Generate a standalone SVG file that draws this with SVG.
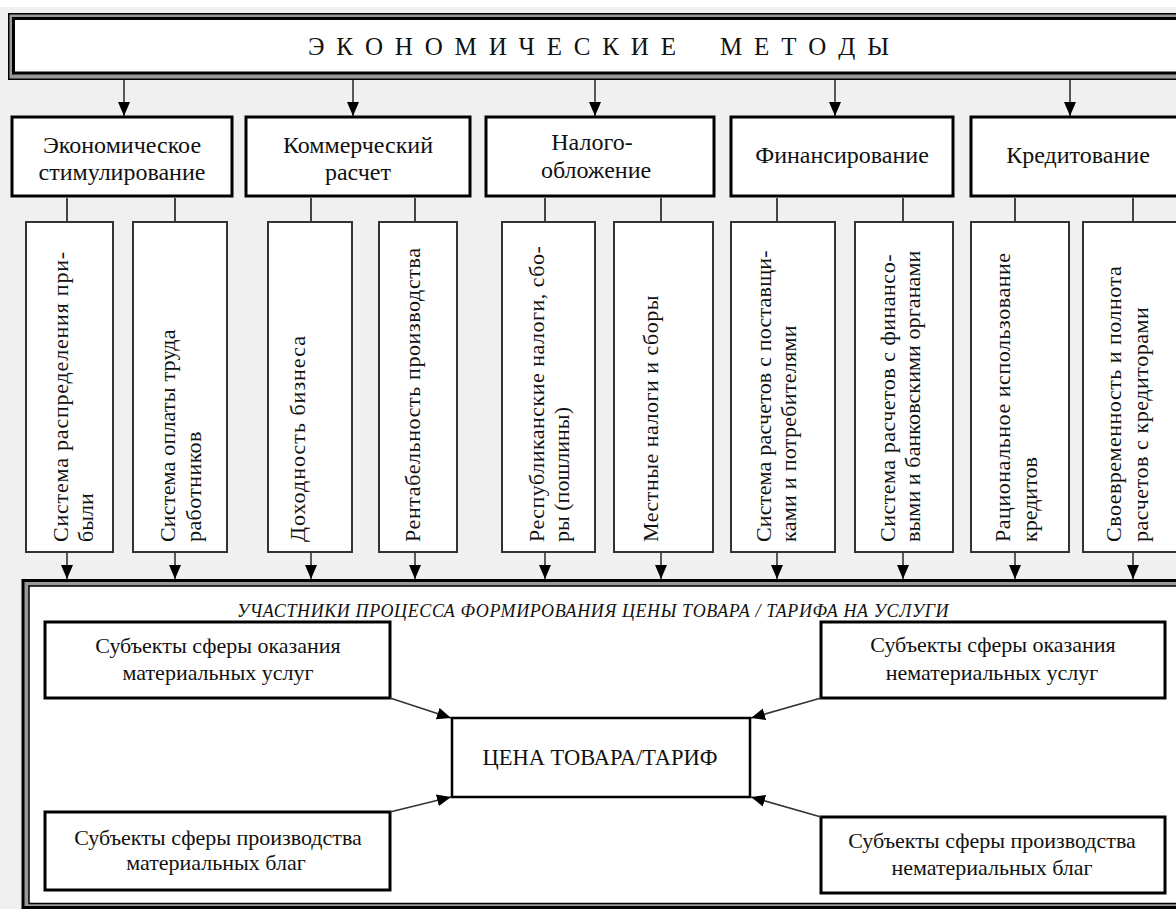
<svg xmlns="http://www.w3.org/2000/svg" width="1176" height="909" viewBox="0 0 1176 909">
<style>
.box2{fill:#fff;stroke:#000;stroke-width:3}
.box3{fill:#fff;stroke:#333;stroke-width:2}
.boxb{fill:#fff;stroke:#000;stroke-width:3}
.conn{stroke:#333;stroke-width:1.6;fill:none}
.stub{stroke:#444;stroke-width:2;fill:none}
</style>
<defs>
<marker id="ah" viewBox="0 0 14 12" refX="14" refY="6" markerWidth="14" markerHeight="12" markerUnits="userSpaceOnUse" orient="auto">
<path d="M0,0 L14,6 L0,12 z" fill="#000"/>
</marker>
</defs>
<rect x="0" y="0" width="1176" height="909" fill="#f0f0f0"/>
<rect x="0" y="0" width="1176" height="7" fill="#fff"/>

<g id="title">
<rect x="8.75" y="13.75" width="1200" height="65.5" fill="#999" stroke="#000" stroke-width="1.5"/>
<rect x="13.5" y="18.5" width="1200" height="54.5" fill="#fff" stroke="#000" stroke-width="3"/>
<text x="308" y="55" font-family="'Liberation Serif', serif" font-size="25" fill="#111" letter-spacing="2.8">Э К О Н О М И Ч Е С К И Е</text>
<text x="720" y="55" font-family="'Liberation Serif', serif" font-size="25" fill="#111" letter-spacing="2.8">М Е Т О Д Ы</text>
</g>

<g id="connectors">
<line class="conn" x1="124" y1="80" x2="124" y2="116" marker-end="url(#ah)"/>
<line class="conn" x1="353" y1="80" x2="353" y2="116" marker-end="url(#ah)"/>
<line class="conn" x1="595" y1="80" x2="595" y2="116" marker-end="url(#ah)"/>
<line class="conn" x1="835" y1="80" x2="835" y2="116" marker-end="url(#ah)"/>
<line class="conn" x1="1070" y1="80" x2="1070" y2="116" marker-end="url(#ah)"/>

<line class="stub" x1="67" y1="198" x2="67" y2="222"/>
<line class="stub" x1="175" y1="198" x2="175" y2="222"/>
<line class="stub" x1="311" y1="198" x2="311" y2="222"/>
<line class="stub" x1="415" y1="198" x2="415" y2="222"/>
<line class="stub" x1="545" y1="198" x2="545" y2="222"/>
<line class="stub" x1="661" y1="198" x2="661" y2="222"/>
<line class="stub" x1="777" y1="198" x2="777" y2="222"/>
<line class="stub" x1="903" y1="198" x2="903" y2="222"/>
<line class="stub" x1="1015" y1="198" x2="1015" y2="222"/>
<line class="stub" x1="1133" y1="198" x2="1133" y2="222"/>

<line class="conn" x1="67" y1="553" x2="67" y2="579" marker-end="url(#ah)"/>
<line class="conn" x1="175" y1="553" x2="175" y2="579" marker-end="url(#ah)"/>
<line class="conn" x1="311" y1="553" x2="311" y2="579" marker-end="url(#ah)"/>
<line class="conn" x1="415" y1="553" x2="415" y2="579" marker-end="url(#ah)"/>
<line class="conn" x1="545" y1="553" x2="545" y2="579" marker-end="url(#ah)"/>
<line class="conn" x1="661" y1="553" x2="661" y2="579" marker-end="url(#ah)"/>
<line class="conn" x1="777" y1="553" x2="777" y2="579" marker-end="url(#ah)"/>
<line class="conn" x1="903" y1="553" x2="903" y2="579" marker-end="url(#ah)"/>
<line class="conn" x1="1015" y1="553" x2="1015" y2="579" marker-end="url(#ah)"/>
<line class="conn" x1="1133" y1="553" x2="1133" y2="579" marker-end="url(#ah)"/>
</g>

<g id="n-econ-stim">
<rect class="box2" x="12" y="117" width="220" height="79"/>
<text x="122" y="153" font-family="'Liberation Serif', serif" font-size="24" fill="#111" text-anchor="middle">Экономическое</text>
<text x="122" y="180" font-family="'Liberation Serif', serif" font-size="24" fill="#111" text-anchor="middle">стимулирование</text>
</g>
<g id="n-komm">
<rect class="box2" x="246" y="117" width="224" height="79"/>
<text x="358" y="153" font-family="'Liberation Serif', serif" font-size="24" fill="#111" text-anchor="middle">Коммерческий</text>
<text x="358" y="180" font-family="'Liberation Serif', serif" font-size="24" fill="#111" text-anchor="middle">расчет</text>
</g>
<g id="n-nalog">
<rect class="box2" x="486" y="117" width="228" height="79"/>
<text x="592" y="150" font-family="'Liberation Serif', serif" font-size="24" fill="#111" text-anchor="middle">Налого-</text>
<text x="596" y="178" font-family="'Liberation Serif', serif" font-size="24" fill="#111" text-anchor="middle">обложение</text>
</g>
<g id="n-fin">
<rect class="box2" x="731" y="117" width="222" height="79"/>
<text x="842" y="163" font-family="'Liberation Serif', serif" font-size="24" fill="#111" text-anchor="middle">Финансирование</text>
</g>
<g id="n-kred">
<rect class="box2" x="971" y="117" width="230" height="79"/>
<text x="1078" y="163" font-family="'Liberation Serif', serif" font-size="24" fill="#111" text-anchor="middle">Кредитование</text>
</g>

<g id="v1">
<rect class="box3" x="26" y="222" width="87" height="330"/>
<text transform="translate(68,542) rotate(-90)" font-family="'Liberation Serif', serif" font-size="22" fill="#111" letter-spacing="0.8">Система распределения при-</text>
<text transform="translate(93,542) rotate(-90)" font-family="'Liberation Serif', serif" font-size="22" fill="#111">были</text>
</g>
<g id="v2">
<rect class="box3" x="133" y="222" width="94" height="330"/>
<text transform="translate(175,542) rotate(-90)" font-family="'Liberation Serif', serif" font-size="22" fill="#111" letter-spacing="0.2">Система оплаты труда</text>
<text transform="translate(201,542) rotate(-90)" font-family="'Liberation Serif', serif" font-size="22" fill="#111" letter-spacing="0.4">работников</text>
</g>
<g id="v3">
<rect class="box3" x="268" y="222" width="84" height="330"/>
<text transform="translate(305,542) rotate(-90)" font-family="'Liberation Serif', serif" font-size="22" fill="#111" letter-spacing="1">Доходность бизнеса</text>
</g>
<g id="v4">
<rect class="box3" x="379" y="222" width="78" height="330"/>
<text transform="translate(420,542) rotate(-90)" font-family="'Liberation Serif', serif" font-size="22" fill="#111" letter-spacing="0.6">Рентабельность производства</text>
</g>
<g id="v5">
<rect class="box3" x="502" y="222" width="93" height="330"/>
<text transform="translate(544,542) rotate(-90)" font-family="'Liberation Serif', serif" font-size="22" fill="#111" letter-spacing="0.5">Республиканские налоги, сбо-</text>
<text transform="translate(569,542) rotate(-90)" font-family="'Liberation Serif', serif" font-size="22" fill="#111">ры (пошлины)</text>
</g>
<g id="v6">
<rect class="box3" x="614" y="222" width="99" height="330"/>
<text transform="translate(658,542) rotate(-90)" font-family="'Liberation Serif', serif" font-size="22" fill="#111" letter-spacing="0.5">Местные налоги и сборы</text>
</g>
<g id="v7">
<rect class="box3" x="731" y="222" width="104" height="330"/>
<text transform="translate(771,542) rotate(-90)" font-family="'Liberation Serif', serif" font-size="22" fill="#111" letter-spacing="0.2">Система расчетов с поставщи-</text>
<text transform="translate(796,542) rotate(-90)" font-family="'Liberation Serif', serif" font-size="22" fill="#111" letter-spacing="0.3">ками и потребителями</text>
</g>
<g id="v8">
<rect class="box3" x="855" y="222" width="98" height="330"/>
<text transform="translate(895,542) rotate(-90)" font-family="'Liberation Serif', serif" font-size="22" fill="#111" letter-spacing="0.5">Система расчетов с финансо-</text>
<text transform="translate(920,542) rotate(-90)" font-family="'Liberation Serif', serif" font-size="22" fill="#111" letter-spacing="0.1">выми и банковскими органами</text>
</g>
<g id="v9">
<rect class="box3" x="971" y="222" width="98" height="330"/>
<text transform="translate(1010,542) rotate(-90)" font-family="'Liberation Serif', serif" font-size="22" fill="#111" letter-spacing="0.55">Рациональное использование</text>
<text transform="translate(1037,542) rotate(-90)" font-family="'Liberation Serif', serif" font-size="22" fill="#111">кредитов</text>
</g>
<g id="v10">
<rect class="box3" x="1083" y="222" width="110" height="330"/>
<text transform="translate(1121,542) rotate(-90)" font-family="'Liberation Serif', serif" font-size="22" fill="#111" letter-spacing="0.5">Своевременность и полнота</text>
<text transform="translate(1148,542) rotate(-90)" font-family="'Liberation Serif', serif" font-size="22" fill="#111" letter-spacing="0.55">расчетов с кредиторами</text>
</g>

<g id="participants">
<rect x="23" y="580.5" width="1200" height="327" fill="#999" stroke="#000" stroke-width="3"/>
<rect x="29" y="586" width="1200" height="317.5" fill="#fff" stroke="#000" stroke-width="1.5"/>
<text x="237" y="617" font-family="'Liberation Serif', serif" font-size="18" fill="#111" font-style="italic" letter-spacing="0.6">УЧАСТНИКИ ПРОЦЕССА ФОРМИРОВАНИЯ ЦЕНЫ ТОВАРА / ТАРИФА НА УСЛУГИ</text>
</g>

<g id="p-mat-usl">
<rect class="boxb" x="45" y="622" width="345" height="76"/>
<text x="218" y="653" font-family="'Liberation Serif', serif" font-size="22" fill="#111" text-anchor="middle">Субъекты сферы оказания</text>
<text x="218" y="680" font-family="'Liberation Serif', serif" font-size="22" fill="#111" text-anchor="middle">материальных услуг</text>
</g>
<g id="p-nemat-usl">
<rect class="boxb" x="821" y="622" width="344" height="76"/>
<text x="993" y="652" font-family="'Liberation Serif', serif" font-size="22" fill="#111" text-anchor="middle">Субъекты сферы оказания</text>
<text x="992" y="680" font-family="'Liberation Serif', serif" font-size="22" fill="#111" text-anchor="middle">нематериальных услуг</text>
</g>
<g id="p-mat-blag">
<rect class="boxb" x="45" y="812" width="345" height="78"/>
<text x="218" y="845" font-family="'Liberation Serif', serif" font-size="22" fill="#111" text-anchor="middle">Субъекты сферы производства</text>
<text x="216" y="870" font-family="'Liberation Serif', serif" font-size="22" fill="#111" text-anchor="middle">материальных благ</text>
</g>
<g id="p-nemat-blag">
<rect class="boxb" x="821" y="817" width="344" height="76"/>
<text x="992" y="848" font-family="'Liberation Serif', serif" font-size="22" fill="#111" text-anchor="middle">Субъекты сферы производства</text>
<text x="992" y="875" font-family="'Liberation Serif', serif" font-size="22" fill="#111" text-anchor="middle">нематериальных благ</text>
</g>
<g id="price">
<rect x="452" y="718" width="298" height="79" fill="#fff" stroke="#000" stroke-width="2.5"/>
<text x="600" y="765" font-family="'Liberation Serif', serif" font-size="22.5" fill="#111" text-anchor="middle">ЦЕНА ТОВАРА/ТАРИФ</text>
</g>

<g id="connectors-price">
<line class="conn" x1="390" y1="698" x2="451" y2="718" marker-end="url(#ah)"/>
<line class="conn" x1="390" y1="812" x2="451" y2="797" marker-end="url(#ah)"/>
<line class="conn" x1="821" y1="698" x2="751" y2="718" marker-end="url(#ah)"/>
<line class="conn" x1="821" y1="817" x2="751" y2="797" marker-end="url(#ah)"/>
</g>
</svg>
